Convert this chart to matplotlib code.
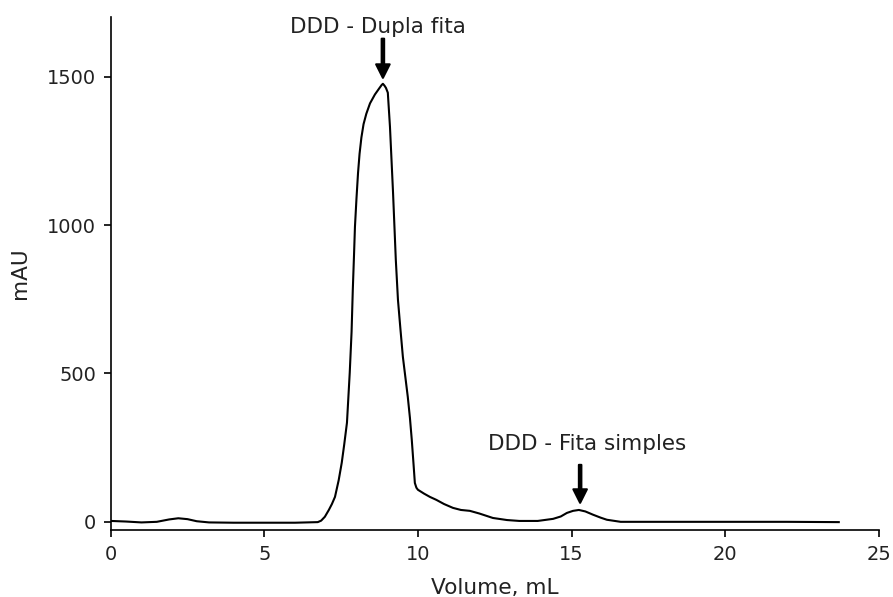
import matplotlib
matplotlib.use("Agg")
import matplotlib.pyplot as plt

# chromatogram (volume in mL, absorbance in mAU)
volume = [0.0, 0.5, 1.0, 1.5, 1.9, 2.2, 2.5, 2.8, 3.2, 4.0, 5.0, 6.0, 6.74,
          6.85, 6.97, 7.1, 7.2, 7.3, 7.42, 7.52, 7.6, 7.69, 7.78, 7.84, 7.88,
          7.92, 7.95, 8.0, 8.05, 8.1, 8.16, 8.23, 8.32, 8.44, 8.6, 8.75, 8.82,
          8.86, 8.91, 8.96, 9.02, 9.09, 9.19, 9.28, 9.35, 9.43, 9.51, 9.6,
          9.67, 9.74, 9.8, 9.86, 9.9, 9.95, 10.0, 10.2, 10.39, 10.6, 10.85,
          11.14, 11.4, 11.69, 12.0, 12.44, 12.9, 13.3, 13.9, 14.4, 14.65,
          14.85, 15.05, 15.24, 15.45, 15.7, 15.95, 16.15, 16.6, 17.5, 20.0,
          22.0, 23.7]
mau = [3, 1, -2, 0, 8, 12, 9, 2, -2, -3, -3, -3, -1,
       4, 17, 40, 60, 84, 140, 199, 260, 334, 502, 640, 782,
       900, 994, 1090, 1175, 1240, 1295, 1340, 1375, 1410, 1440, 1462, 1472,
       1476, 1470, 1462, 1446, 1331, 1109, 883, 748, 650, 556, 480,
       421, 350, 276, 190, 131, 115, 108, 95, 84, 74, 60,
       47, 40, 37, 28, 13, 6, 3, 3, 10, 18,
       30, 37, 40, 35, 24, 14, 7, 0, 0, 0,
       0, -1]

peak_labels = ["DDD - Dupla fita", "DDD - Fita simples"]
peak_x = [8.86, 15.28]
peak_tip = [1496, 64]
peak_tail = [1628, 192]
label_x = [8.7, 15.5]
label_y = [1668, 262]

plt.rcParams['text.color'] = '#222222'
plt.rcParams['axes.labelcolor'] = '#222222'
plt.rcParams['xtick.labelcolor'] = '#222222'
plt.rcParams['ytick.labelcolor'] = '#222222'

fig = plt.figure(figsize=(893 / 150, 597 / 150), dpi=150)
ax = fig.add_axes([0.124, 0.112, 0.860, 0.860])
ax.plot(volume, mau, color='black', lw=1.0)

for lab, px, tip, tail, lx, ly in zip(peak_labels, peak_x, peak_tip, peak_tail, label_x, label_y):
    ax.annotate('', xy=(px, tip), xytext=(px, tail),
                arrowprops=dict(facecolor='black', edgecolor='black', width=1.2,
                                headwidth=6.5, headlength=6.5, shrink=0))
    ax.text(lx, ly, lab, ha='center', va='center', fontsize=10.3)

ax.set_xlim(0, 25)
ax.set_ylim(-28, 1702)
ax.set_xticks([0, 5, 10, 15, 20, 25])
ax.set_yticks([0, 500, 1000, 1500])
ax.tick_params(labelsize=9.3)
ax.spines['top'].set_visible(False)
ax.spines['right'].set_visible(False)
ax.set_xlabel('Volume, mL', fontsize=10.4, labelpad=7)
ax.set_ylabel('mAU', fontsize=10.4, labelpad=8)

fig.savefig('out.png', dpi=150)
